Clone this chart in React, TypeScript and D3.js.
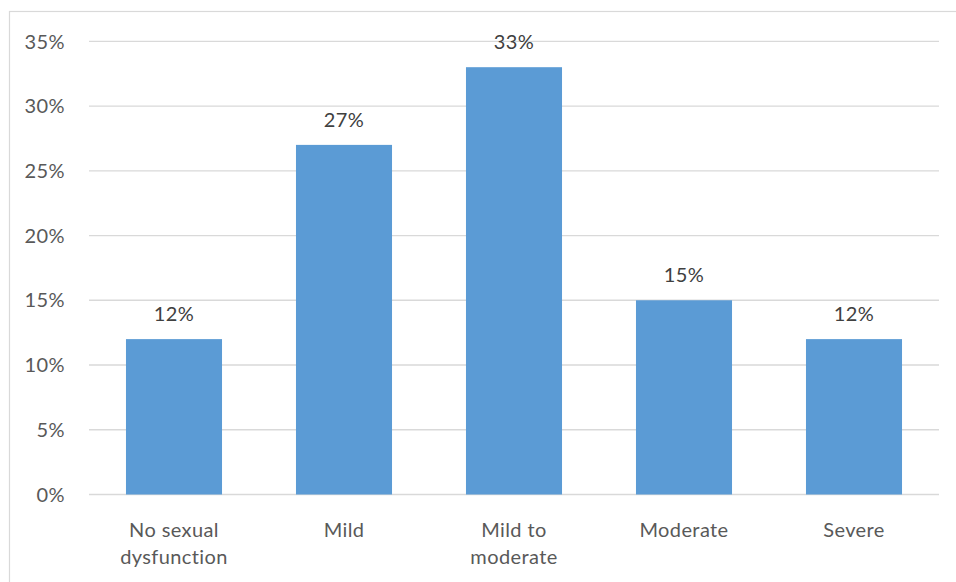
import React from "react";
import * as d3 from "d3";

const categories = ["No sexual\ndysfunction", "Mild", "Mild to\nmoderate", "Moderate", "Severe"];
const values = [12, 27, 33, 15, 12];
const yTicks = [0, 5, 10, 15, 20, 25, 30, 35];

export default function App() {
  const W = 956, H = 582;
  const x0 = 89, x1 = 939, yTop = 41.3, yBot = 494.5;
  const x = d3.scaleBand<string>().domain(categories).range([x0, x1]).paddingInner(0.435).paddingOuter(0.2175);
  const y = d3.scaleLinear().domain([0, 35]).range([yBot, yTop]);
  const font = "Lato, 'Open Sans', sans-serif";
  const color = "#595959";
  const fs = 20;
  const ls = 0.4;
  return (
    <svg width={W} height={H} style={{ position: "absolute", left: 0, top: 0, background: "#fff" }}>
      <rect x={9.5} y={11.5} width={W} height={H} fill="#fff" stroke="#d9d9d9" strokeWidth={1.2} />
      {yTicks.map((t) => (
        <g key={t}>
          <line x1={x0} x2={x1} y1={y(t)} y2={y(t)} stroke="#d9d9d9" strokeWidth={1.3} />
          <text x={65} y={y(t)} dy="0.36em" textAnchor="end" fontFamily={font} fontSize={fs} fill={color} letterSpacing={ls}>
            {t}%
          </text>
        </g>
      ))}
      {categories.map((c, i) => (
        <g key={c}>
          <rect x={x(c)} y={y(values[i])} width={x.bandwidth()} height={yBot - y(values[i])} fill="#5b9bd5" />
          <text x={x(c)! + x.bandwidth() / 2} y={y(values[i]) - 18} textAnchor="middle" fontFamily={font} fontSize={fs} fill="#404040" letterSpacing={ls}>
            {values[i]}%
          </text>
          {c.split("\n").map((line, j) => (
            <text key={j} x={x(c)! + x.bandwidth() / 2} y={537 + j * 27} textAnchor="middle" fontFamily={font} fontSize={fs} fill={color} letterSpacing={ls}>
              {line}
            </text>
          ))}
        </g>
      ))}
    </svg>
  );
}
